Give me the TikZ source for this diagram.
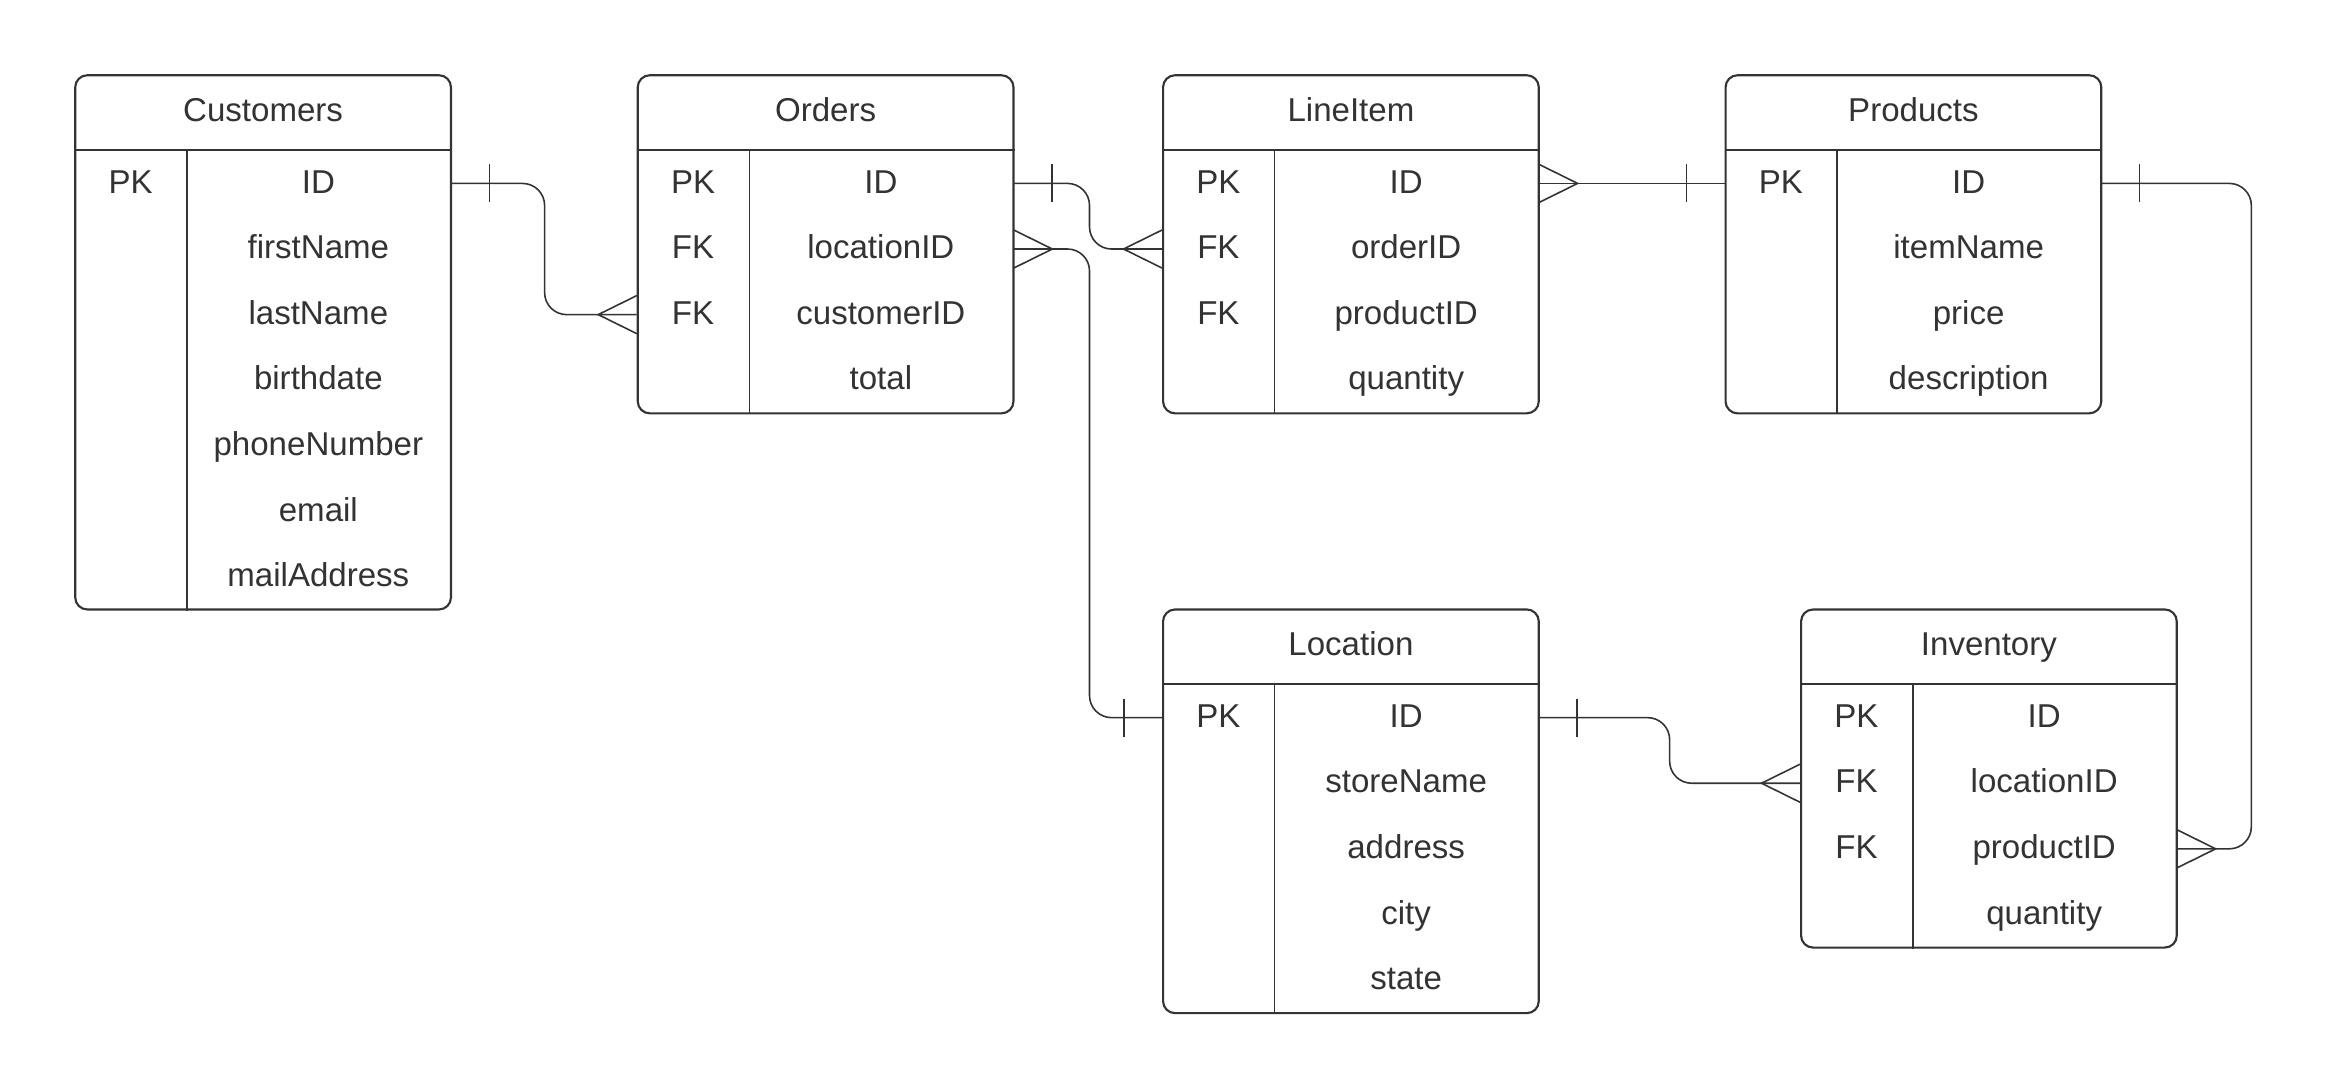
\documentclass[tikz,border=0pt]{standalone}
\usepackage{fontspec}
\setmainfont{Liberation Sans}
\usetikzlibrary{calc}
\definecolor{ink}{HTML}{333333}

% entity table: name, left, top, box height, divider style, title, key/field rows
\newcommand{\erentity}[7]{%
  \node[entitybox, minimum height=#4*0.01cm] (#1) at (#2,#3) {};
  \node[celltext] (#1-title) at ($(#1.north)+(0,37.85)$) {#6};
  \draw[headline] ($(#1.north west)+(0,75.7)$) -- ($(#1.north east)+(0,75.7)$);
  \draw[#5] ($(#1.north west)+(112.8,75.7)$) -- ($(#1.south west)+(112.8,0)$);
  \foreach \k/\f [count=\i] in {#7} {
    \node[rowbox] (#1-\i) at ($(#1.north west)+(0,{75.7+65.6*(\i-1)})$) {};
    \node[celltext] (#1-k\i) at ($(#1-\i.west)+(56.4,0)$) {\k};
    \node[celltext] (#1-f\i) at ($(#1-\i.west)+(244.15,0)$) {\f};
  }%
}
% "many" end: crow's foot on a table edge, #2 = +1 (opens to the right) or -1
\newcommand{\crowsfoot}[2]{%
  \draw[conn] ($(#1)+(0,-19)$) -- ($(#1)+({#2*38.5},0)$) -- ($(#1)+(0,19)$);}
% "one" end: single bar just outside a table edge
\newcommand{\onebar}[2]{%
  \draw[conn] ($(#1)+({#2*38},-19)$) -- ($(#1)+({#2*38},19)$);}

\begin{document}
\begin{tikzpicture}[x=0.01cm,y=-0.01cm,
  entitybox/.style={draw=ink, line width=0.6pt, rounded corners=0.12cm,
    minimum width=3.755cm, inner sep=0pt, anchor=north west},
  rowbox/.style={minimum width=3.755cm, minimum height=0.656cm,
    inner sep=0pt, anchor=north west},
  celltext/.style={text=ink, font=\fontsize{9.4pt}{11pt}\selectfont,
    inner sep=0pt, text height=6.73pt, text depth=0pt, anchor=center,
    yshift=0.022cm},
  headline/.style={draw=ink, line width=0.6pt},
  divthin/.style={draw=ink, line width=0.35pt},
  divthick/.style={draw=ink, line width=0.6pt},
  conn/.style={draw=ink, line width=0.45pt},
  elbow/.style={rounded corners=0.22cm}]

\fill[white] (0,0) rectangle (2327,1088);
\useasboundingbox (0,0) rectangle (2327,1088);

\erentity{cust}{74.2}{74.2}{534.2}{divthick}{Customers}
  {PK/ID, /firstName, /lastName, /birthdate, /phoneNumber, /email, /mailAddress}
\erentity{ord}{636.7}{74.2}{338.1}{divthin}{Orders}
  {PK/ID, FK/locationID, FK/customerID, /total}
\erentity{li}{1162}{74.2}{338.1}{divthin}{LineItem}
  {PK/ID, FK/orderID, FK/productID, /quantity}
\erentity{prod}{1724.5}{74.2}{338.1}{divthick}{Products}
  {PK/ID, /itemName, /price, /description}
\erentity{loc}{1162}{608.4}{403.7}{divthin}{Location}
  {PK/ID, /storeName, /address, /city, /state}
\erentity{inv}{1800}{608.4}{338.1}{divthick}{Inventory}
  {PK/ID, FK/locationID, FK/productID, /quantity}

% Customers 1 -- * Orders
\draw[conn, elbow] (cust-1.east) -- ++(93.3,0) |- (ord-3.west);
\onebar{cust-1.east}{1}
\crowsfoot{ord-3.west}{-1}

% Orders 1 -- * LineItem
\draw[conn, elbow] (ord-1.east) -- ++(75.7,0) |- (li-2.west);
\onebar{ord-1.east}{1}
\crowsfoot{li-2.west}{-1}

% Location 1 -- * Orders
\draw[conn, elbow] (ord-2.east) -- ++(75.7,0) |- (loc-1.west);
\crowsfoot{ord-2.east}{1}
\onebar{loc-1.west}{-1}

% Products 1 -- * LineItem
\draw[conn] (li-1.east) -- (prod-1.west);
\crowsfoot{li-1.east}{1}
\onebar{prod-1.west}{-1}

% Products 1 -- * Inventory
\draw[conn, elbow] (prod-1.east) -- ++(149.7,0) |- (inv-3.east);
\onebar{prod-1.east}{1}
\crowsfoot{inv-3.east}{1}

% Location 1 -- * Inventory
\draw[conn, elbow] (loc-1.east) -- ++(130.5,0) |- (inv-2.west);
\onebar{loc-1.east}{1}
\crowsfoot{inv-2.west}{-1}

\end{tikzpicture}
\end{document}
